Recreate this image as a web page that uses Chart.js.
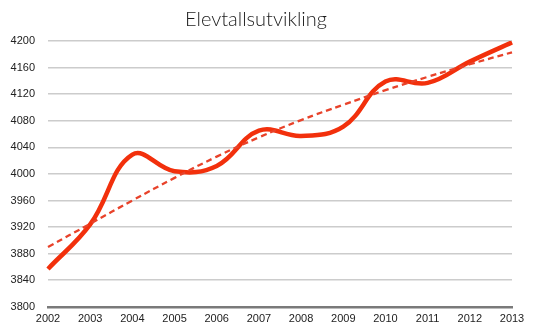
<!DOCTYPE html>
<html>
<head>
<meta charset="utf-8">
<script src="https://cdn.jsdelivr.net/npm/chart.js@4"></script>
<style>
  html, body { margin: 0; padding: 0; background: #fff; }
  #wrap { width: 540px; height: 335px; }
</style>
</head>
<body>
<div id="wrap"><canvas id="elevChart" width="540" height="335"></canvas></div>
<script>
// data
const years = ["2002", "2003", "2004", "2005", "2006", "2007", "2008", "2009", "2010", "2011", "2012", "2013"];
const pupils = [3857, 3924, 4029, 4004, 4012, 4065, 4057, 4071, 4139, 4137, 4169, 4198];
// dashed trend line (slightly curved in the original)
const trend = [3890, 3925, 3960, 3994, 4026, 4055, 4081, 4104, 4126, 4146, 4165, 4183];
const yMin = 3800;
const yMax = 4200;
const yStep = 40;

const red = "#f2300c";

const ctx = document.getElementById("elevChart").getContext("2d");

new Chart(ctx, {
  type: "line",
  data: {
    labels: years,
    datasets: [
      {
        data: trend,
        borderColor: "#e8422a",
        borderWidth: 2.3,
        borderDash: [6, 4],
        pointRadius: 0,
        tension: 0.4,
        fill: false,
      },
      {
        data: pupils,
        borderColor: red,
        borderWidth: 4.5,
        pointRadius: 0,
        tension: 0.4,
        fill: false,
      },
    ],
  },
  options: {
    responsive: false,
    animation: false,
    layout: {
      padding: { left: 0, right: 28, top: 4, bottom: 3 },
    },
    plugins: {
      legend: { display: false },
      tooltip: { enabled: false },
      title: {
        display: true,
        text: "Elevtallsutvikling",
        color: "#1a1a1a",
        font: { family: "Lato", size: 20, weight: "300" },
        padding: { top: 4, bottom: 9 },
      },
    },
    scales: {
      x: {
        offset: false,
        grid: { display: false, drawTicks: false },
        border: { display: true, color: "#7a7a7a", width: 2.5 },
        ticks: {
          color: "#222",
          font: { family: "Liberation Sans", size: 11 },
          padding: 6,
          maxRotation: 0,
          autoSkip: false,
        },
      },
      y: {
        min: yMin,
        max: yMax,
        afterFit: function (scale) {
          scale.width = 48;
        },
        grid: { color: "#cccccc", lineWidth: 1.5, drawTicks: false },
        border: { display: false },
        ticks: {
          stepSize: yStep,
          color: "#222",
          font: { family: "Liberation Sans", size: 11 },
          padding: 13,
          callback: function (value) {
            return String(value);
          },
        },
      },
    },
  },
});
</script>
</body>
</html>
